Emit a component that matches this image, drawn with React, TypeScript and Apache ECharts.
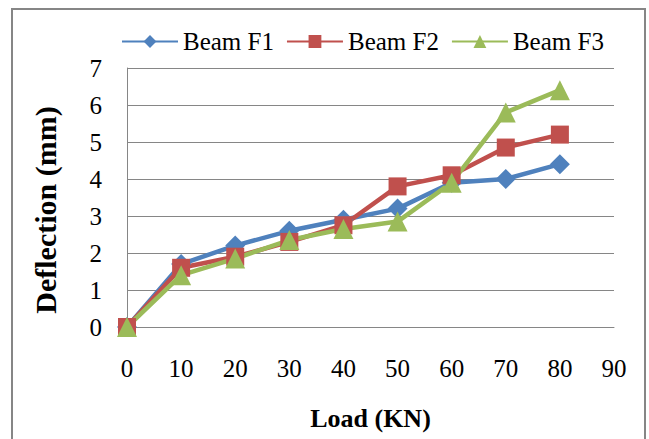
import React, { useEffect, useRef } from "react";
import * as echarts from "echarts";

const loads = [0, 10, 20, 30, 40, 50, 60, 70, 80];
const beamF1 = [0, 1.7, 2.2, 2.6, 2.9, 3.2, 3.9, 4.0, 4.4];
const beamF2 = [0, 1.6, 1.9, 2.3, 2.75, 3.8, 4.1, 4.85, 5.2];
const beamF3 = [0, 1.4, 1.85, 2.35, 2.65, 2.85, 3.9, 5.8, 6.4];
const seriesNames = ["Beam F1", "Beam F2", "Beam F3"];
const colors = ["#4F81BD", "#C0504D", "#9BBB59"];

const FONT = "'Liberation Serif', 'Times New Roman', serif";

export default function App() {
  const ref = useRef<HTMLDivElement>(null);
  useEffect(() => {
    if (!ref.current) return;
    const chart = echarts.init(ref.current, undefined, { renderer: "svg" });
    const mk = (name: string, vals: number[], color: string, symbol: string, size: number) => ({
      name,
      type: "line",
      data: loads.map((x, i) => [x, vals[i]]),
      symbol,
      symbolSize: size,
      lineStyle: { color, width: 4.5 },
      itemStyle: { color },
      z: 3,
    });
    chart.setOption({
      animation: false,
      backgroundColor: "#ffffff",
      textStyle: { fontFamily: FONT },
      graphic: [
        {
          type: "rect",
          shape: { x: 12, y: 9, width: 633, height: 440 },
          style: { fill: "none", stroke: "#868686", lineWidth: 2 },
          silent: true,
        },
        {
          type: "text",
          x: 45,
          y: 210,
          rotation: Math.PI / 2,
          style: {
            text: "Deflection (mm)",
            font: `bold 30px ${FONT}`,
            fill: "#000",
            textAlign: "center",
            textVerticalAlign: "middle",
          },
        },
      ],
      legend: {
        data: seriesNames,
        left: 121,
        top: 29,
        padding: 0,
        itemWidth: 56,
        itemHeight: 16,
        itemGap: 12,
        textStyle: { fontFamily: FONT, fontSize: 25, color: "#000" },
      },
      grid: {
        left: 127,
        right: 35,
        top: 68,
        bottom: 112,
        containLabel: false,
        outerBoundsMode: "none",
      },
      xAxis: {
        type: "value",
        min: 0,
        max: 90,
        interval: 10,
        name: "Load (KN)",
        nameLocation: "middle",
        nameGap: 78,
        nameTextStyle: { fontFamily: FONT, fontSize: 26, fontWeight: "bold", color: "#000" },
        axisLine: { show: true, lineStyle: { color: "#868686", width: 1 } },
        axisTick: { show: false },
        splitLine: { show: false },
        axisLabel: { fontFamily: FONT, fontSize: 25, color: "#000", margin: 29 },
      },
      yAxis: {
        type: "value",
        min: 0,
        max: 7,
        interval: 1,
        axisLine: { show: true, lineStyle: { color: "#868686", width: 1 } },
        axisTick: { show: false },
        splitLine: { show: true, lineStyle: { color: "#868686", width: 1 } },
        axisLabel: { fontFamily: FONT, fontSize: 25, color: "#000", margin: 25 },
      },
      series: [
        mk(seriesNames[0], beamF1, colors[0], "diamond", 20),
        mk(seriesNames[1], beamF2, colors[1], "rect", 18),
        mk(seriesNames[2], beamF3, colors[2], "triangle", 20),
      ],
    });
    return () => chart.dispose();
  }, []);
  return (
    <div
      ref={ref}
      style={{ position: "fixed", left: 0, top: 0, width: 649, height: 439 }}
    />
  );
}
